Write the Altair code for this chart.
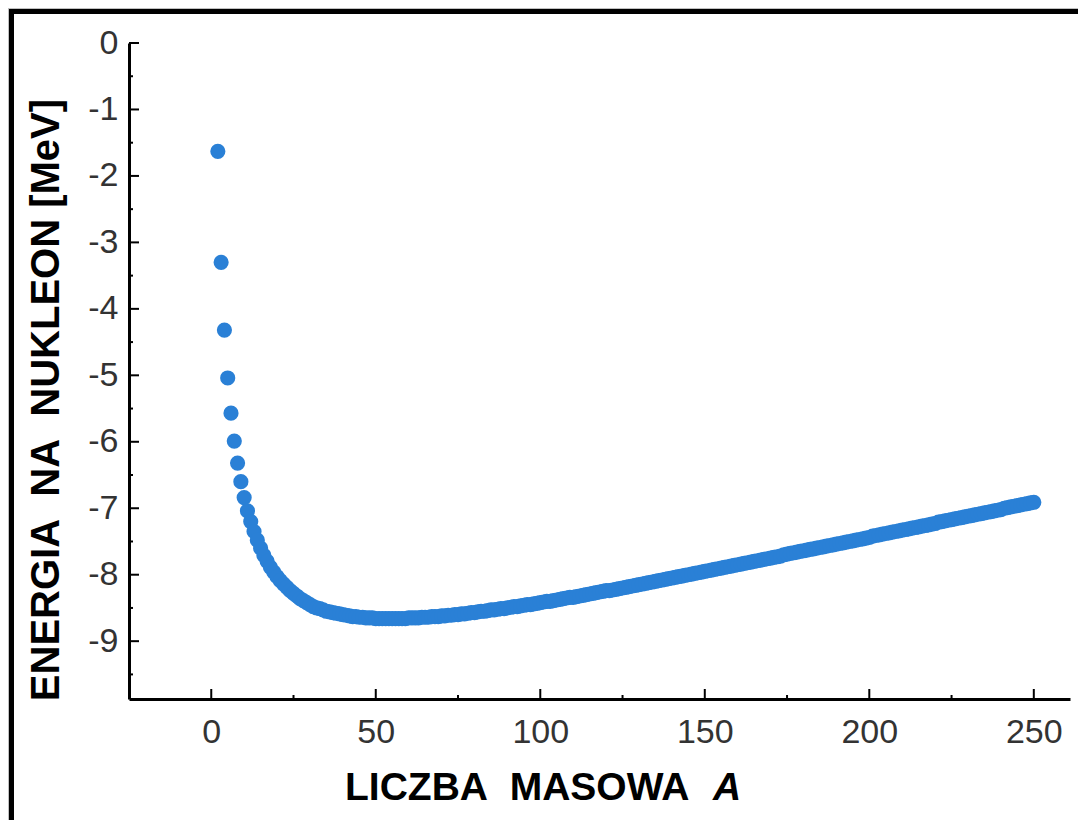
import altair as alt
import pandas as pd

# Mass numbers A (every integer from 2 to 250)
mass_numbers = list(range(2, 251))

# Energy per nucleon [MeV], one value per A
energy = [
    -1.63, -3.30, -4.32, -5.04, -5.57, -5.99, -6.32, -6.60, -6.84, -7.04,   # 2-11
    -7.20, -7.35, -7.48, -7.60, -7.71, -7.80, -7.89, -7.96, -8.03, -8.09,   # 12-21
    -8.14, -8.19, -8.24, -8.28, -8.32, -8.36, -8.39, -8.42, -8.45, -8.48,   # 22-31
    -8.50, -8.51, -8.53, -8.55, -8.56, -8.57, -8.58, -8.59, -8.60, -8.61,   # 32-41
    -8.62, -8.63, -8.63, -8.64, -8.64, -8.65, -8.65, -8.65, -8.66, -8.66,   # 42-51
    -8.66, -8.66, -8.66, -8.66, -8.66, -8.66, -8.66, -8.66, -8.65, -8.65,   # 52-61
    -8.65, -8.65, -8.64, -8.64, -8.64, -8.63, -8.63, -8.63, -8.62, -8.62,   # 62-71
    -8.61, -8.61, -8.60, -8.60, -8.59, -8.59, -8.58, -8.57, -8.57, -8.56,   # 72-81
    -8.55, -8.55, -8.54, -8.53, -8.53, -8.52, -8.51, -8.51, -8.50, -8.49,   # 82-91
    -8.48, -8.48, -8.47, -8.46, -8.45, -8.45, -8.44, -8.43, -8.42, -8.41,   # 92-101
    -8.40, -8.40, -8.39, -8.38, -8.37, -8.36, -8.35, -8.34, -8.34, -8.33,   # 102-111
    -8.32, -8.31, -8.30, -8.29, -8.28, -8.27, -8.26, -8.25, -8.24, -8.24,   # 112-121
    -8.23, -8.22, -8.21, -8.20, -8.19, -8.18, -8.17, -8.16, -8.15, -8.14,   # 122-131
    -8.13, -8.12, -8.11, -8.10, -8.09, -8.08, -8.07, -8.06, -8.05, -8.04,   # 132-141
    -8.03, -8.02, -8.01, -8.00, -7.99, -7.98, -7.97, -7.96, -7.95, -7.94,   # 142-151
    -7.93, -7.92, -7.91, -7.90, -7.89, -7.88, -7.87, -7.86, -7.85, -7.84,   # 152-161
    -7.83, -7.82, -7.81, -7.80, -7.79, -7.78, -7.77, -7.76, -7.75, -7.74,   # 162-171
    -7.73, -7.72, -7.70, -7.69, -7.68, -7.67, -7.66, -7.65, -7.64, -7.63,   # 172-181
    -7.62, -7.61, -7.60, -7.59, -7.58, -7.57, -7.56, -7.55, -7.54, -7.53,   # 182-191
    -7.52, -7.51, -7.50, -7.49, -7.48, -7.47, -7.46, -7.45, -7.44, -7.42,   # 192-201
    -7.41, -7.40, -7.39, -7.38, -7.37, -7.36, -7.35, -7.34, -7.33, -7.32,   # 202-211
    -7.31, -7.30, -7.29, -7.28, -7.27, -7.26, -7.25, -7.24, -7.23, -7.21,   # 212-221
    -7.20, -7.19, -7.18, -7.17, -7.16, -7.15, -7.14, -7.13, -7.12, -7.11,   # 222-231
    -7.10, -7.09, -7.08, -7.07, -7.06, -7.05, -7.04, -7.03, -7.02, -7.00,   # 232-241
    -6.99, -6.98, -6.97, -6.96, -6.95, -6.94, -6.93, -6.92, -6.91,          # 242-250
]
assert len(energy) == len(mass_numbers)

x_major = [0, 50, 100, 150, 200, 250]
x_minor = [25, 75, 125, 175, 225]
y_major = [0, -1, -2, -3, -4, -5, -6, -7, -8, -9]
y_minor = [-0.5, -1.5, -2.5, -3.5, -4.5, -5.5, -6.5, -7.5, -8.5, -9.5]

x_title = "LICZBA\u00a0\u00a0MASOWA"
x_title_var = "A"
y_title = "ENERGIA\u00a0\u00a0NA\u00a0\u00a0NUKLEON\u00a0[MeV]"

W, H = 941, 656
FONT = "Liberation Sans"
POINT_COLOR = "#2a80d6"

x_scale = alt.Scale(domain=[-25, 261], nice=False, zero=False)
y_scale = alt.Scale(domain=[-9.87, 0], nice=False, zero=False)

x_axis = alt.Axis(values=x_major, title=None, grid=False, ticks=False, tickSize=0,
                  domainColor="black", domainWidth=3, zindex=2,
                  labelFont=FONT, labelFontSize=34, labelColor="#333333",
                  labelPadding=16, labelFlush=False)
y_axis = alt.Axis(values=y_major, title=None, grid=False, ticks=False, tickSize=0,
                  domainColor="black", domainWidth=3, zindex=2,
                  labelFont=FONT, labelFontSize=34, labelColor="#333333",
                  labelPadding=11, labelFlush=False,
                  labelExpr="'' + datum.value")

df = pd.DataFrame({"A": mass_numbers, "E": energy})

# white page frame with thick black border (extends past the right/bottom edge)
frame = alt.Chart(pd.DataFrame({"k": [0]})).mark_rect(
    fill="white", stroke="black", strokeWidth=5
).encode(
    x=alt.value(-117.5), x2=alt.value(1200),
    y=alt.value(-31.5), y2=alt.value(1000),
)

points = alt.Chart(df).mark_circle(size=230, color=POINT_COLOR, opacity=1).encode(
    x=alt.X("A:Q", scale=x_scale, axis=x_axis),
    y=alt.Y("E:Q", scale=y_scale, axis=y_axis),
)

def yticks(vals, length, width):
    return alt.Chart(pd.DataFrame({"v": vals})).mark_rule(color="black", strokeWidth=width).encode(
        y=alt.Y("v:Q", scale=y_scale, axis=y_axis),
        x=alt.value(0), x2=alt.value(length),
    )

def xticks(vals, length, width):
    return alt.Chart(pd.DataFrame({"v": vals})).mark_rule(color="black", strokeWidth=width).encode(
        x=alt.X("v:Q", scale=x_scale, axis=x_axis),
        y=alt.value(H), y2=alt.value(H - length),
    )

def label(text, x, y, size, angle=0, italic=False, align="left", baseline="alphabetic"):
    kw = dict(font=FONT, fontSize=size, fontWeight="bold", color="black",
              align=align, baseline=baseline, angle=angle)
    if italic:
        kw["fontStyle"] = "italic"
    return alt.Chart(pd.DataFrame({"t": [text]})).mark_text(**kw).encode(
        text="t:N", x=alt.value(x), y=alt.value(y)
    )

chart = alt.layer(
    frame,
    points,
    yticks(y_major, 10, 2),
    yticks(y_minor, 4, 2),
    xticks(x_major, 10, 2),
    xticks(x_minor, 4, 2),
    label(x_title, 216, 757, 39),
    label(x_title_var, 584, 757, 39, italic=True),
    label(y_title, -82, 357, 40, angle=270, align="center", baseline="middle"),
).properties(
    width=W, height=H,
    autosize=alt.AutoSizeParams(type="none"),
    padding={"left": 121, "top": 35, "right": 8, "bottom": 121},
).configure(
    background="#c0c0c0",
).configure_view(
    stroke=None,
)

chart.save("out.html", embed_options={"renderer": "svg", "actions": False})
